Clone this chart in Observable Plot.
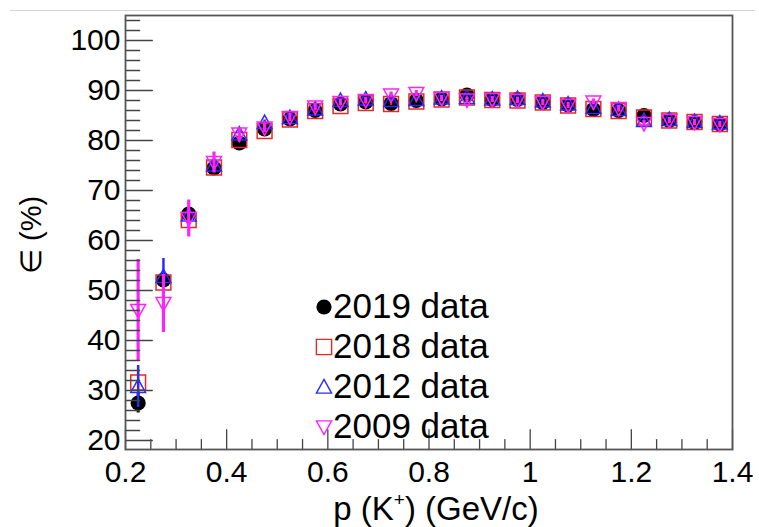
<!DOCTYPE html>
<html>
<head>
<meta charset="utf-8">
<style>
  body { margin: 0; background: #fff; }
  #wrap { position: relative; width: 759px; height: 527px; font-family: "Liberation Sans", Arial, sans-serif; }
  #wrap svg { position: absolute; left: 0; top: 0; }
</style>
</head>
<body>
<div id="wrap"></div>
<script src="https://cdn.jsdelivr.net/npm/d3@7"></script>
<script src="https://cdn.jsdelivr.net/npm/@observablehq/plot@0.6"></script>
<script>
// K+ momentum bin centres (GeV/c)
const momentum = [0.225, 0.275, 0.325, 0.375, 0.425, 0.475, 0.525, 0.575, 0.625, 0.675, 0.725, 0.775,
                  0.825, 0.875, 0.925, 0.975, 1.025, 1.075, 1.125, 1.175, 1.225, 1.275, 1.325, 1.375];

// Efficiency (%) and uncertainties for each data set
const eff2019 = [27.5, 52.1, 65.3, 74.5, 79.5, 82.3, 84.3, 86.0, 87.3, 87.7, 87.4, 88.0,
                 88.3, 89.1, 88.2, 88.2, 87.6, 87.1, 86.2, 86.0, 85.0, 84.0, 83.6, 83.3];
const err2019 = [2.0, 1.4, 1.0, 0.7, 0.5, 0.4, 0.3, 0.3, 0.3, 0.3, 0.3, 0.3,
                 0.3, 0.3, 0.3, 0.3, 0.3, 0.3, 0.3, 0.3, 0.3, 0.3, 0.3, 0.3];

const eff2018 = [31.6, 51.6, 64.1, 74.6, 80.1, 81.9, 84.2, 85.9, 86.9, 87.5, 87.3, 87.8,
                 88.2, 88.6, 88.1, 88.0, 87.6, 87.0, 86.3, 85.9, 84.6, 84.0, 83.7, 83.3];
const err2018 = [2.4, 1.6, 1.0, 0.7, 0.5, 0.4, 0.4, 0.3, 0.3, 0.3, 0.3, 0.3,
                 0.3, 0.3, 0.3, 0.3, 0.3, 0.3, 0.3, 0.3, 0.3, 0.3, 0.3, 0.3];

const eff2012 = [30.8, 52.8, 65.1, 75.1, 81.3, 83.6, 84.6, 86.3, 88.0, 88.3, 88.0, 88.2,
                 88.5, 88.6, 88.3, 88.4, 87.9, 87.3, 86.6, 86.2, 84.0, 84.2, 83.8, 83.5];
const err2012 = [4.2, 3.6, 1.5, 0.9, 0.6, 0.5, 0.4, 0.4, 0.4, 0.4, 0.4, 0.4,
                 0.4, 0.4, 0.4, 0.4, 0.4, 0.4, 0.4, 0.4, 0.4, 0.4, 0.4, 0.4];

const eff2009 = [46.0, 47.4, 64.4, 75.6, 81.3, 82.5, 84.6, 86.7, 87.6, 88.0, 89.1, 89.4,
                 88.4, 88.1, 88.2, 88.0, 87.6, 87.0, 87.7, 86.4, 83.4, 84.0, 83.6, 83.2];
const err2009 = [10.2, 5.8, 3.7, 2.1, 1.2, 0.9, 0.8, 0.7, 0.6, 0.6, 0.6, 0.6,
                 0.6, 0.6, 0.6, 0.6, 0.6, 0.6, 0.6, 0.6, 0.6, 0.6, 0.6, 0.6];

const seriesNames  = ["2019 data", "2018 data", "2012 data", "2009 data"];
const seriesColors = ["#000000", "#e02a2a", "#2b2bff", "#ff22ff"];
const seriesErrWidth = [3, 2, 2.5, 3.2];

const xTickValues = [0.2, 0.4, 0.6, 0.8, 1, 1.2, 1.4];
const yTickValues = [20, 30, 40, 50, 60, 70, 80, 90, 100];

// Marker shapes (filled circle, open square, open triangles up / down)
const radiusOf = size => Math.sqrt(size / Math.PI);
const symCircle = { draw(ctx, size) { const r = radiusOf(size); ctx.moveTo(r, 0); ctx.arc(0, 0, r, 0, 2 * Math.PI); } };
const symSquare = { draw(ctx, size) { const r = radiusOf(size); ctx.rect(-r, -r, 2 * r, 2 * r); } };
const symTriUp = { draw(ctx, size) { const r = radiusOf(size); ctx.moveTo(0, -r); ctx.lineTo(r, r * 0.8); ctx.lineTo(-r, r * 0.8); ctx.closePath(); } };
const symTriDown = { draw(ctx, size) { const r = radiusOf(size); ctx.moveTo(-r, -r * 0.8); ctx.lineTo(r, -r * 0.8); ctx.lineTo(0, r); ctx.closePath(); } };
const seriesSymbols = [symCircle, symSquare, symTriUp, symTriDown];

const effs = [eff2019, eff2018, eff2012, eff2009];
const errs = [err2019, err2018, err2012, err2009];
const table = seriesNames.map((name, s) =>
  momentum.map((p, i) => ({ p, eff: effs[s][i], err: errs[s][i], name })));

// Tick line shape for vectors
const tickShape = { draw(ctx, l) { ctx.moveTo(0, 0); ctx.lineTo(0, -l); } };
const xMinor = d3.range(0.2, 1.4001, 0.05).map(v => +v.toFixed(2));
const yMinor = d3.range(20, 105, 2);

const W = 759, H = 527;
const marks = [];

// error bars then markers, one data set after another
table.forEach((rows, s) => {
  marks.push(Plot.ruleX(rows, {
    x: "p", y1: d => d.eff - d.err, y2: d => d.eff + d.err,
    stroke: seriesColors[s], strokeWidth: seriesErrWidth[s]
  }));
  marks.push(Plot.dot(rows, s === 0
    ? { x: "p", y: "eff", symbol: seriesSymbols[s], r: 7.6, fill: seriesColors[s], stroke: "none" }
    : { x: "p", y: "eff", symbol: seriesSymbols[s], r: 7.4, fill: "none", stroke: seriesColors[s], strokeWidth: 1.5 }));
});

marks.push(
  // inward ticks
  Plot.vector(yMinor, { x: 0.2, y: d => d, rotate: 90, anchor: "start", length: d => d % 10 === 0 ? 19 : 10, shape: tickShape, stroke: "#444", strokeWidth: 1.3 }),
  Plot.vector(xMinor, { x: d => d, y: 18.2, rotate: 0, anchor: "start", length: d => Math.abs(d * 5 - Math.round(d * 5)) < 1e-6 ? 14 : 7, shape: tickShape, stroke: "#444", strokeWidth: 1.3 }),
  Plot.frame({ stroke: "#555", strokeWidth: 1.8 }),
  Plot.axisY(yTickValues, { anchor: "left", tickSize: 0, tickPadding: 5, fontSize: 30, label: null, fill: "#000" }),
  Plot.axisX(xTickValues, { anchor: "bottom", tickSize: 0, tickPadding: 11, fontSize: 30, label: null, fill: "#000", tickFormat: d => String(d) })
);

const chart = Plot.plot({
  width: W, height: H,
  marginLeft: 125, marginRight: 27, marginTop: 15, marginBottom: 78,
  x: { domain: [0.2, 1.4] },
  y: { domain: [18.2, 105] },
  style: { fontFamily: '"Liberation Sans", Arial, sans-serif', background: "transparent", color: "#000" },
  marks
});

const wrap = document.getElementById("wrap");
wrap.appendChild(chart);

// Titles, legend and the page rule on an overlay
const over = d3.select(wrap).append("svg").attr("width", W).attr("height", H)
  .style("font-family", '"Liberation Sans", Arial, sans-serif');

over.append("line").attr("x1", 10).attr("x2", 755).attr("y1", 10.5).attr("y2", 10.5)
  .attr("stroke", "#d2d2d2").attr("stroke-width", 1.2);

over.append("text").attr("transform", "translate(41,235) rotate(-90)")
  .attr("text-anchor", "middle").attr("font-size", 29).text("\u2208 (%)");

const xt = over.append("text").attr("x", 436).attr("y", 520).attr("text-anchor", "middle").attr("font-size", 33);
xt.append("tspan").text("p (K");
xt.append("tspan").attr("dy", -14).attr("font-size", 19).text("+");
xt.append("tspan").attr("dy", 14).text(") (GeV/c)");

const leg = over.append("g");
seriesNames.forEach((name, s) => {
  const base = 318 + 40 * s;
  const path = d3.path();
  seriesSymbols[s].draw(path, Math.PI * 7.6 * 7.6);
  leg.append("path").attr("d", path.toString())
    .attr("transform", `translate(324,${base - 11})`)
    .attr("fill", s === 0 ? seriesColors[s] : "none")
    .attr("stroke", s === 0 ? "none" : seriesColors[s]).attr("stroke-width", 1.4);
  leg.append("text").attr("x", 333).attr("y", base).attr("font-size", 35).text(name);
});
</script>
</body>
</html>
